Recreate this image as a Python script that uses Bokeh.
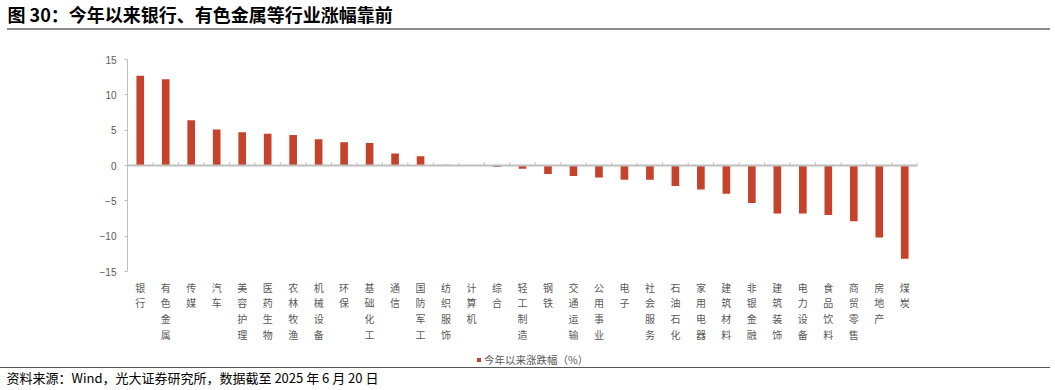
from bokeh.plotting import figure
from bokeh.models import Range1d, FixedTicker, Span, Legend, Title
from bokeh.layouts import column
from bokeh.embed import file_html
from bokeh.resources import INLINE

# ---------------- data ----------------
categories = ["银行", "有色金属", "传媒", "汽车", "美容护理", "医药生物", "农林牧渔", "机械设备",
              "环保", "基础化工", "通信", "国防军工", "纺织服饰", "计算机", "综合", "轻工制造",
              "钢铁", "交通运输", "公用事业", "电子", "社会服务", "石油石化", "家用电器", "建筑材料",
              "非银金融", "建筑装饰", "电力设备", "食品饮料", "商贸零售", "房地产", "煤炭"]
ytd_change = [12.7, 12.2, 6.4, 5.1, 4.7, 4.5, 4.3, 3.7, 3.3, 3.2, 1.7, 1.3, 0.1, 0.02, -0.2, -0.45,
              -1.2, -1.5, -1.7, -2.0, -2.0, -2.9, -3.4, -4.0, -5.3, -6.8, -6.8, -7.0, -7.9, -10.2, -13.2]
y_ticks = [-15, -10, -5, 0, 5, 10, 15]
series_name = "今年以来涨跌幅（%）"
title_text = "图 30：今年以来银行、有色金属等行业涨幅靠前"
source_text = "资料来源：Wind，光大证券研究所，数据截至 2025 年 6 月 20 日"

BAR = "#C5432A"
AXIS = "#BFBFBF"
LABEL = "#595959"
CJK = "Noto Sans CJK SC"
W = 1055
BL, BR = 127, 138   # left / right borders of the chart frame


def blank(height, css=None):
    f = figure(width=W, height=height, output_backend="svg", toolbar_location=None,
               min_border=0, min_border_left=BL, min_border_right=BR,
               x_axis_location=None, y_axis_location=None,
               background_fill_alpha=0, border_fill_alpha=0)
    f.outline_line_color = None
    f.xgrid.visible = False
    f.ygrid.visible = False
    if css:
        f.styles = css
    return f


# ---------------- header (title + grey rule) ----------------
head = blank(30, {"background": "linear-gradient(#8C8C8C, #8C8C8C) 7px 28px / 1043px 2px no-repeat"})
head.add_layout(Title(text=title_text, align="left", offset=7 - BL, standoff=0,
                      vertical_align="top", text_line_height=1.1,
                      text_font=CJK, text_font_style="bold", text_font_size="18px",
                      text_color="#000000"), "above")

# ---------------- main chart ----------------
n = len(categories)
xs = list(range(n))
main = figure(width=W, height=317, x_range=Range1d(-0.5, n - 0.5), y_range=Range1d(-15, 15),
              output_backend="svg", toolbar_location=None,
              min_border_top=29, min_border_bottom=76, min_border_left=BL, min_border_right=BR)
main.outline_line_color = None
main.xgrid.visible = False
main.ygrid.visible = False

main.vbar(x=xs, top=ytd_change, bottom=0, width=0.3, fill_color=BAR, line_color=None)

main.add_layout(Span(location=0, dimension="width", line_color=AXIS, line_width=2))
bounds = [k - 0.5 for k in range(n + 1)]
main.segment(x0=bounds, y0=[0] * len(bounds), x1=bounds, y1=[0.45] * len(bounds),
             line_color=AXIS, line_width=1)

xa = main.xaxis[0]
xa.ticker = FixedTicker(ticks=xs)
xa.major_label_overrides = {i: "\n".join(c) for i, c in zip(xs, categories)}
xa.axis_line_color = None
xa.major_tick_line_color = None
xa.minor_tick_line_color = None
xa.major_tick_out = 0
xa.major_label_standoff = 8
xa.major_label_text_font = CJK
xa.major_label_text_font_size = "10px"
xa.major_label_text_color = LABEL
xa.major_label_text_line_height = 1.05

ya = main.yaxis[0]
ya.ticker = FixedTicker(ticks=y_ticks)
ya.axis_line_color = AXIS
ya.major_tick_line_color = AXIS
ya.minor_tick_line_color = None
ya.major_tick_out = 3
ya.major_tick_in = 0
ya.major_label_standoff = 8
ya.major_label_text_font = "Liberation Sans"
ya.major_label_text_font_size = "10px"
ya.major_label_text_color = LABEL

# ---------------- legend row ----------------
# the same series is bound to a legend-only view (zero-width, outside the value window),
# so only its legend swatch is drawn, with the series' own fill
leg = blank(20)
leg.x_range = Range1d(-0.5, n - 0.5)
leg.y_range = Range1d(-1000, -999)
r = leg.vbar(x=xs, top=ytd_change, bottom=0, width=0, fill_color=BAR, line_color=None)
legend = Legend(items=[(series_name, [r])], location=(476 - BL, 0), orientation="horizontal",
                glyph_width=5, glyph_height=5, label_height=11, label_standoff=3,
                padding=0, margin=0, spacing=0, border_line_color=None, background_fill_alpha=0,
                label_text_font=CJK, label_text_font_size="10.5px", label_text_color=LABEL)
leg.add_layout(legend, "center")

# ---------------- source (dark rule + text) ----------------
foot = blank(23, {"background": "linear-gradient(#555555, #555555) 0px 0px / 1050px 1px no-repeat"})
foot.add_layout(Title(text=source_text, align="left", offset=6 - BL, standoff=0,
                      vertical_align="top", text_line_height=1.0,
                      text_font=CJK, text_font_style="normal", text_font_size="13px",
                      text_color="#000000"), "above")

layout = column(head, main, leg, foot, spacing=0)
open("out.html", "w").write(file_html(layout, INLINE))
